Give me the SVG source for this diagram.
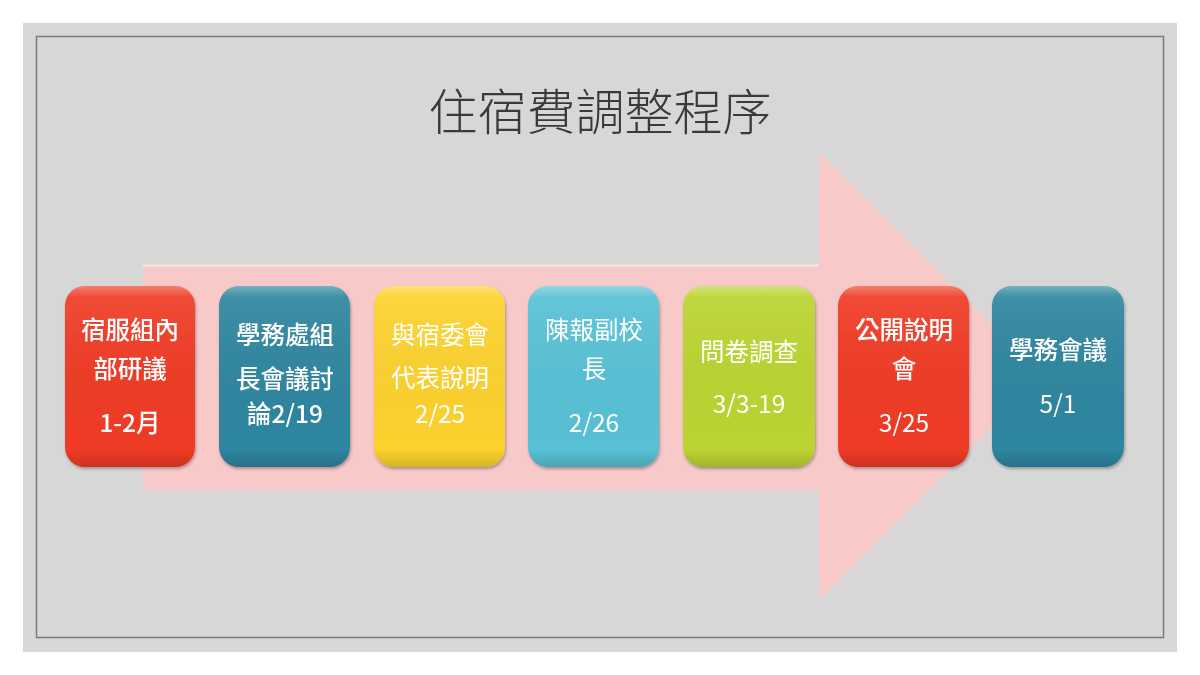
<svg xmlns="http://www.w3.org/2000/svg" width="1200" height="675" viewBox="0 0 1200 675">
<defs>
<style>
.box{stroke:none}
.t{font-family:"Noto Sans CJK TC","Noto Sans CJK SC",sans-serif;font-size:24.5px;fill:#ffffff;text-anchor:middle}
.b{font-weight:500}
.gloss{fill:url(#gl)}
.title{font-family:"Noto Sans CJK TC","Noto Sans CJK SC",sans-serif;font-size:49px;fill:#3a3a3a;text-anchor:middle;font-weight:300}
</style>
<linearGradient id="gl" x1="0" y1="0" x2="0" y2="1">
<stop offset="0" stop-color="#fff" stop-opacity="0.35"/>
<stop offset="0.06" stop-color="#fff" stop-opacity="0.08"/>
<stop offset="0.9" stop-color="#000" stop-opacity="0"/>
<stop offset="1" stop-color="#000" stop-opacity="0.15"/>
</linearGradient>
<filter id="sh" x="-10%" y="-10%" width="120%" height="120%">
<feDropShadow dx="1" dy="2" stdDeviation="1.5" flood-color="#000" flood-opacity="0.3"/>
</filter>
</defs>
<rect x="0" y="0" width="1200" height="675" fill="#ffffff"/>
<rect x="23" y="23" width="1154" height="629" fill="#d7d7d7"/>
<rect x="36.5" y="36.5" width="1127" height="601" fill="none" stroke="#7a7a7a" stroke-width="1.5"/>
<text class="title" x="600" y="130">住宿費調整程序</text>
<g id="arrow">
<polygon points="143,265 819,265 819,152 1043,376 819,600 819,490 143,490" fill="#f7c9c9"/>
<line x1="143" y1="265.5" x2="819" y2="265.5" stroke="#fbe6e6" stroke-width="2"/>
</g>
<g id="n1" filter="url(#sh)">
<rect class="box" x="65" y="286" width="130" height="181" rx="20" fill="#f03b25"/>
<rect x="65" y="286" width="130" height="181" rx="20" class="gloss"/>
<text class="t b" x="130" y="339">宿服組內</text>
<text class="t b" x="130" y="378">部研議</text>
<text class="t b" x="130" y="432">1-2月</text>
</g>
<g id="n2" filter="url(#sh)">
<rect class="box" x="219" y="286" width="131" height="181" rx="20" fill="#2e869f"/>
<rect x="219" y="286" width="131" height="181" rx="20" class="gloss"/>
<text class="t b" x="285" y="344">學務處組</text>
<text class="t b" x="285" y="388">長會議討</text>
<text class="t b" x="285" y="423">論2/19</text>
</g>
<g id="n3" filter="url(#sh)">
<rect class="box" x="374" y="286" width="131" height="181" rx="20" fill="#fdd22e"/>
<rect x="374" y="286" width="131" height="181" rx="20" class="gloss"/>
<text class="t" x="440" y="344">與宿委會</text>
<text class="t" x="440" y="387">代表說明</text>
<text class="t" x="440" y="423">2/25</text>
</g>
<g id="n4" filter="url(#sh)">
<rect class="box" x="528" y="286" width="131" height="181" rx="20" fill="#58c1d5"/>
<rect x="528" y="286" width="131" height="181" rx="20" class="gloss"/>
<text class="t" x="594" y="339">陳報副校</text>
<text class="t" x="594" y="378">長</text>
<text class="t" x="594" y="432">2/26</text>
</g>
<g id="n5" filter="url(#sh)">
<rect class="box" x="683" y="286" width="132" height="181" rx="20" fill="#bcd431"/>
<rect x="683" y="286" width="132" height="181" rx="20" class="gloss"/>
<text class="t" x="749" y="361">問卷調查</text>
<text class="t" x="749" y="413">3/3-19</text>
</g>
<g id="n6" filter="url(#sh)">
<rect class="box" x="838" y="286" width="131" height="181" rx="20" fill="#f03b25"/>
<rect x="838" y="286" width="131" height="181" rx="20" class="gloss"/>
<text class="t b" x="904" y="339">公開說明</text>
<text class="t b" x="904" y="378">會</text>
<text class="t" x="904" y="432">3/25</text>
</g>
<g id="n7" filter="url(#sh)">
<rect class="box" x="992" y="286" width="132" height="181" rx="20" fill="#2e869f"/>
<rect x="992" y="286" width="132" height="181" rx="20" class="gloss"/>
<text class="t b" x="1058" y="359">學務會議</text>
<text class="t" x="1058" y="413">5/1</text>
</g>
</svg>
